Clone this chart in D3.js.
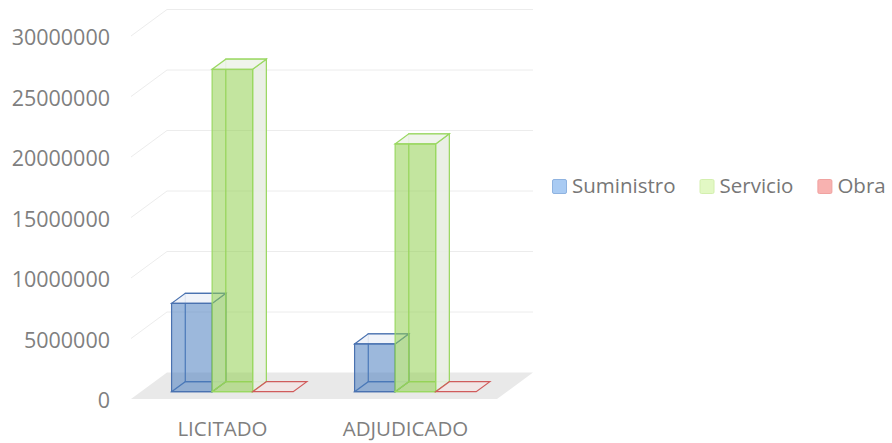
<!DOCTYPE html>
<html>
<head>
<meta charset="utf-8">
<script src="https://d3js.org/d3.v7.min.js"></script>
<style>
  body { margin: 0; background: #fff; }
  text { font-family: "Open Sans", "Noto Sans", sans-serif; }
</style>
</head>
<body>
<div id="visu"></div>
<script>

// Données
var categories = ["LICITADO", "ADJUDICADO"];
var series = ["Suministro", "Servicio", "Obra"];
var suministro = [7300000, 3950000];
var servicio = [26650000, 20480000];
var obra = [0, 0];
var ticks = [0, 5000000, 10000000, 15000000, 20000000, 25000000, 30000000];

var valeurs = { "Suministro": suministro, "Servicio": servicio, "Obra": obra };

var largeur = 892, hauteur = 443;

// profondeur 3D : décalage d'une unité de profondeur
var profX = 36, profY = 26.5;
var barreD0 = 0.275, barreD1 = 0.655;

var svg = d3.select("#visu").append("svg")
  .attr("width", largeur)
  .attr("height", hauteur);

var x = d3.scaleBand().domain(categories).range([131, 497]);
var xs = d3.scaleBand().domain(series).range([0, x.bandwidth()]).paddingOuter(0.757);
var y = d3.scaleLinear().domain([0, 30000000]).range([399, 36]);

// projection (x devant, valeur, profondeur) -> écran
function proj(px, v, d) {
  return [px + d * profX, y(v) - d * profY];
}
function poly(pts) {
  return "M" + pts.map(p => p[0] + "," + p[1]).join("L") + "Z";
}

var x0 = x.range()[0], x1 = x.range()[1];

// sol
svg.append("path")
  .attr("d", poly([proj(x0, 0, 0), proj(x1, 0, 0), proj(x1, 0, 1), proj(x0, 0, 1)]))
  .attr("fill", "#e9e9e9");

// grille : mur du fond + mur de gauche
var grille = svg.append("g").attr("stroke", "#ececec").attr("stroke-width", 1).attr("fill", "none");
ticks.filter(t => t > 0).forEach(function(t) {
  grille.append("path").attr("d", "M" + proj(x0, t, 0) + "L" + proj(x0, t, 1) + "L" + proj(x1, t, 1));
});

// axe des valeurs
var axe = svg.append("g")
  .attr("transform", "translate(" + x0 + ",2)")
  .call(d3.axisLeft(y).tickValues(ticks).tickSize(0).tickPadding(21).tickFormat(d3.format("d")));
axe.select(".domain").remove();
axe.selectAll("text").attr("font-size", 21.5).attr("fill", "#7f7f7f")
  .style("font-family", '"Open Sans", sans-serif');

// styles des barres
var styles = {
  "Suministro": { face: "#4a7ebf", faceOp: 0.55, trait: "#4a72b0", cote: "#e4eaf3", dessus: "#eef2f8" },
  "Servicio":   { face: "#92d050", faceOp: 0.55, trait: "#9ad862", cote: "#e8ede3", dessus: "#eef3ea" },
  "Obra":       { face: "#e8d6d6", faceOp: 0.6,  trait: "#d05c5c", cote: "#f3e6e6", dessus: "#f2e6e6" }
};

var barres = svg.append("g");
categories.forEach(function(cat, i) {
  series.forEach(function(s) {
    var v = valeurs[s][i];
    var st = styles[s];
    var l = x(cat) + xs(s), r = l + xs.bandwidth();
    var a = barreD0, b = barreD1;
    var g = barres.append("g");
    // faces cachées (arêtes arrière)
    if (v > 0) {
      g.append("path")
        .attr("d", poly([proj(l, 0, b), proj(r, 0, b), proj(r, v, b), proj(l, v, b)]))
        .attr("fill", "none").attr("stroke", st.trait).attr("stroke-width", 1.2);
      g.append("path")
        .attr("d", poly([proj(l, 0, a), proj(r, 0, a), proj(r, 0, b), proj(l, 0, b)]))
        .attr("fill", "none").attr("stroke", st.trait).attr("stroke-width", 1.2);
      // côté droit
      g.append("path")
        .attr("d", poly([proj(r, 0, a), proj(r, 0, b), proj(r, v, b), proj(r, v, a)]))
        .attr("fill", st.cote).attr("fill-opacity", 0.9)
        .attr("stroke", st.trait).attr("stroke-width", 1.2);
    }
    // dessus
    g.append("path")
      .attr("d", poly([proj(l, v, a), proj(r, v, a), proj(r, v, b), proj(l, v, b)]))
      .attr("fill", st.dessus).attr("fill-opacity", 0.9)
      .attr("stroke", st.trait).attr("stroke-width", 1.2);
    // face avant
    if (v > 0) {
      g.append("path")
        .attr("d", poly([proj(l, 0, a), proj(r, 0, a), proj(r, v, a), proj(l, v, a)]))
        .attr("fill", st.face).attr("fill-opacity", st.faceOp)
        .attr("stroke", st.trait).attr("stroke-width", 1.2);
    }
  });
});

// étiquettes des catégories
svg.append("g").selectAll("text")
  .data(categories)
  .join("text")
  .attr("x", d => x(d) + x.bandwidth() / 2)
  .attr("y", 436)
  .attr("text-anchor", "middle")
  .attr("font-size", 20.5)
  .attr("fill", "#7f7f7f")
  .text(d => d);

// légende
var couleursLeg = { "Suministro": ["#a9cbf3", "#8fb3e0"], "Servicio": ["#e2f8c4", "#d3efae"], "Obra": ["#f8b2b0", "#f0a2a0"] };
var leg = svg.append("g");
var lx = 552;
series.forEach(function(s) {
  leg.append("rect")
    .attr("x", lx + 0.5).attr("y", 179.5).attr("width", 14).attr("height", 14)
    .attr("rx", 1.5)
    .attr("fill", couleursLeg[s][0]).attr("stroke", couleursLeg[s][1]);
  var t = leg.append("text")
    .attr("x", lx + 20).attr("y", 193)
    .attr("font-size", 20.5).attr("fill", "#777")
    .text(s);
  lx = lx + 20 + t.node().getComputedTextLength() + 24;
});

</script>
</body>
</html>
